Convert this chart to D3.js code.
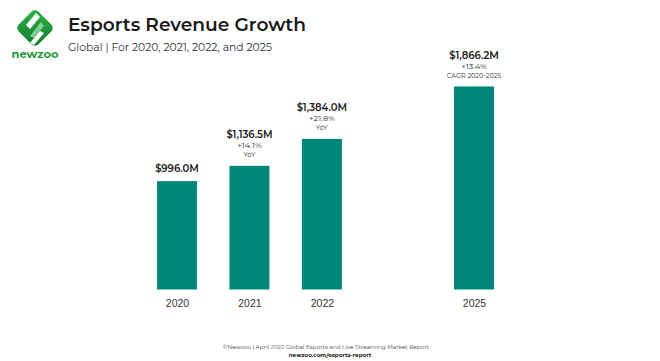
<!DOCTYPE html>
<html>
<head>
<meta charset="utf-8">
<script src="https://cdnjs.cloudflare.com/ajax/libs/d3/7.8.5/d3.min.js"></script>
<style>
  body { margin: 0; background: #fff; }
  svg { display: block; font-family: "Montserrat", "Noto Sans", "Open Sans", sans-serif; }
  .axis text { font-size: 10.5px; fill: #333; }
</style>
</head>
<body>
<div id="chart"></div>
<script>
// data
var years = ["2020", "2021", "2022", "2025"];
var revenue = [996.0, 1136.5, 1384.0, 1866.2];
var growth = ["", "+14.1%", "+21.8%", "+13.4%"];
var growthNote = ["", "YoY", "YoY", "CAGR 2020-2025"];

var width = 660, height = 361;
var svg = d3.select("#chart").append("svg")
    .attr("width", width)
    .attr("height", height);

// logo
var logo = svg.append("g").attr("transform", "translate(35,28)");
var grad = svg.append("defs").append("linearGradient")
    .attr("id", "lg").attr("x1", "0").attr("y1", "0").attr("x2", "1").attr("y2", "1");
grad.append("stop").attr("offset", "0").attr("stop-color", "#2fb34a");
grad.append("stop").attr("offset", "1").attr("stop-color", "#137a2c");
logo.append("rect")
    .attr("x", -14).attr("y", -14).attr("width", 28).attr("height", 28)
    .attr("rx", 5)
    .attr("transform", "rotate(45)")
    .attr("fill", "url(#lg)");
logo.append("path")
    .attr("d", "M-9,-3 L1,-15 L5,-11 L-5,1 Z M5,3 L-5,15 L-1,17 L9,5 Z")
    .attr("fill", "#fff");
logo.append("path")
    .attr("d", "M-5,8 L6,-6 L9,-2 L-1,10 Z")
    .attr("fill", "#9be0a4").attr("opacity", 0.8);
svg.append("text")
    .attr("x", 35).attr("y", 58)
    .attr("text-anchor", "middle")
    .attr("font-size", 11.5).attr("font-weight", "bold")
    .attr("fill", "#1f9a3a")
    .text("newzoo");

// title
svg.append("text")
    .attr("x", 68).attr("y", 31)
    .attr("font-size", 18.6).attr("font-weight", 600)
    .attr("fill", "#1a1a1a")
    .text("Esports Revenue Growth");
svg.append("text")
    .attr("x", 68).attr("y", 51)
    .attr("font-size", 10.8)
    .attr("fill", "#333")
    .text("Global | For 2020, 2021, 2022, and 2025");

// scales: a wider gap before 2025
function slot(i) { return i + (i >= 3 ? 1.1 : 0); }
var x = d3.scaleLinear().domain([0, slot(3)]).range([177, 474]);
var y = d3.scaleLinear().domain([0, 2000]).range([289.5, 71.9]);
var barW = 40;

var data = years.map(function(d, i) {
  return { year: d, value: revenue[i], growth: growth[i], note: growthNote[i], i: i };
});

svg.selectAll("rect.bar").data(data).enter().append("rect")
    .attr("class", "bar")
    .attr("x", function(d) { return x(slot(d.i)) - barW / 2; })
    .attr("width", barW)
    .attr("y", function(d) { return y(d.value); })
    .attr("height", function(d) { return y(0) - y(d.value); })
    .attr("fill", "#00877a");

var lab = svg.selectAll("g.lab").data(data).enter().append("g")
    .attr("class", "lab")
    .attr("transform", function(d) { return "translate(" + x(slot(d.i)) + "," + y(d.value) + ")"; })
    .attr("text-anchor", "middle");
lab.append("text")
    .attr("y", function(d) { return d.growth ? -27.5 : -9; })
    .attr("font-size", 10).attr("font-weight", 600)
    .attr("fill", "#222")
    .text(function(d) { return "$" + d3.format(",.1f")(d.value) + "M"; });
lab.append("text")
    .attr("y", -17.5)
    .attr("font-size", 8.2)
    .attr("fill", "#333")
    .text(function(d) { return d.growth; });
lab.append("text")
    .attr("y", -8.5)
    .attr("font-size", 6.5)
    .attr("fill", "#333")
    .text(function(d) { return d.note; });

// x axis
svg.append("g")
    .attr("class", "axis")
    .attr("transform", "translate(0,297)")
    .call(d3.axisBottom(x)
      .tickValues(data.map(function(d) { return slot(d.i); }))
      .tickFormat(function(v, i) { return years[i]; })
      .tickSize(0))
    .call(function(g) { g.select(".domain").remove(); });

// footer
svg.append("text")
    .attr("x", 326).attr("y", 349)
    .attr("text-anchor", "middle")
    .attr("font-size", 5.8).attr("fill", "#444")
    .text("\u00A9Newzoo | April 2022 Global Esports and Live Streaming Market Report");
svg.append("text")
    .attr("x", 330).attr("y", 356.5)
    .attr("text-anchor", "middle")
    .attr("font-size", 5.7).attr("font-weight", "bold").attr("fill", "#222")
    .text("newzoo.com/esports-report");
</script>
</body>
</html>
